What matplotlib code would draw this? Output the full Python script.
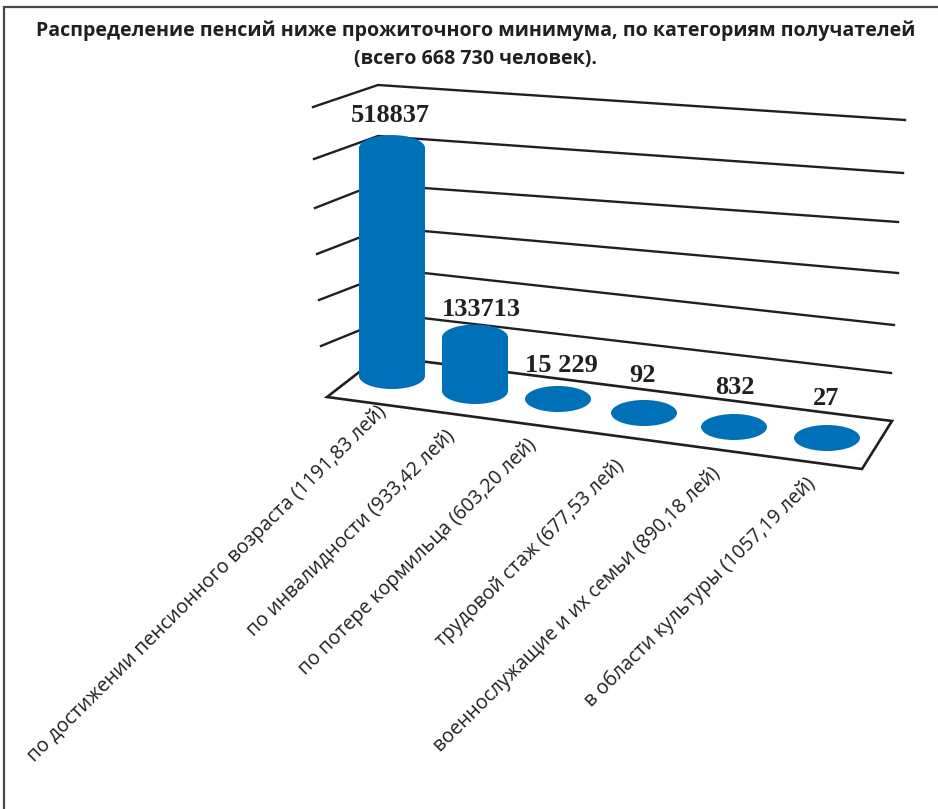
import matplotlib
matplotlib.use("Agg")
import matplotlib.pyplot as plt
from matplotlib.patches import Ellipse, Polygon

# ---- chart data ----
categories = [
    "по достижении пенсионного возраста (1191,83 лей)",
    "по инвалидности (933,42 лей)",
    "по потере кормильца (603,20 лей)",
    "трудовой стаж (677,53 лей)",
    "военнослужащие и их семьи (890,18 лей)",
    "в области культуры (1057,19 лей)",
]
values = [518837, 133713, 15229, 92, 832, 27]
value_labels = ["518837", "133713", "15 229", "92", "832", "27"]
title = ("Распределение пенсий ниже прожиточного минимума, по категориям получателей\n"
         "(всего 668 730 человек).")

# ---- perspective geometry of the picture (pixels) ----
W, H = 938, 809
slot_x = [392, 475, 558, 644, 734, 827]
slot_y = [376, 391, 399, 413, 427, 438]
label_x = [390, 481, 561, 642, 735, 826]
label_dy = [33, 28, 34, 38, 40, 40]
tick_end = [(383, 409), (451, 433), (533, 442), (621, 463), (717, 471), (812, 481)]
ELL_W, ELL_H = 66, 26
AXIS_MIN = 15670       # value at the floor of the value axis
PX_PER_UNIT = 0.000453
wall_left = [(313, 107), (314, 159), (315, 208), (317, 254), (319, 300), (321, 346)]
wall_corner = [(378, 85), (378, 136), (375, 184.5), (385, 227.6), (397, 270), (397, 315)]
wall_right = [(905, 120), (903, 173), (898, 222), (898, 273), (894, 325), (891, 373)]
floor_pts = [(327, 397), (380, 356), (892, 421), (862, 469)]

BLUE = "#0070b8"
INK = "#231f20"

fig = plt.figure(figsize=(W / 100, H / 100), dpi=100, facecolor="white")
ax = fig.add_axes([0, 0, 1, 1])
ax.set_xlim(0, W)
ax.set_ylim(H, 0)
ax.axis("off")

# frame (only top and left are inside the picture)
ax.plot([3.5, 3.5, W], [H, 6.5, 6.5], color="#4a4a4a", lw=1.6, solid_joinstyle="miter", zorder=1)

# walls and floor
for a, b, c in zip(wall_left, wall_corner, wall_right):
    ax.plot([a[0], b[0], c[0]], [a[1], b[1], c[1]], color=INK, lw=1.7, zorder=2)
ax.add_patch(Polygon(floor_pts, closed=True, facecolor="white", edgecolor=INK, lw=1.9,
                     joinstyle="miter", zorder=2))

for x, y, v in zip(slot_x, slot_y, values):
    h = max(0.0, (v - AXIS_MIN) * PX_PER_UNIT)
    ax.add_patch(Ellipse((x, y), ELL_W, ELL_H, facecolor=BLUE, edgecolor="none", zorder=3))
    if h > 0:
        ax.fill_between([x - ELL_W / 2, x + ELL_W / 2], y - h, y, color=BLUE, lw=0, zorder=3)
        ax.add_patch(Ellipse((x, y - h), ELL_W, ELL_H, facecolor=BLUE, edgecolor="none", zorder=3))

# value labels
for lx, x, y, v, dy, s in zip(label_x, slot_x, slot_y, values, label_dy, value_labels):
    h = max(0.0, (v - AXIS_MIN) * PX_PER_UNIT)
    ax.text(lx, y - h - dy, s, family="Liberation Serif", weight="bold", fontsize=19,
            color=INK, ha="center", va="center", zorder=5)

# category labels
for (ex, ey), s in zip(tick_end, categories):
    ax.text(ex, ey, s, family="Open Sans", fontsize=14.1, color=INK, rotation=44.8,
            rotation_mode="anchor", ha="right", va="center", zorder=5)

# title
ax.text(476, 45, title, family="Open Sans", weight="bold", fontsize=14.1, color=INK,
        ha="center", va="center", linespacing=1.52, zorder=5)

fig.savefig("out.png", dpi=100)
